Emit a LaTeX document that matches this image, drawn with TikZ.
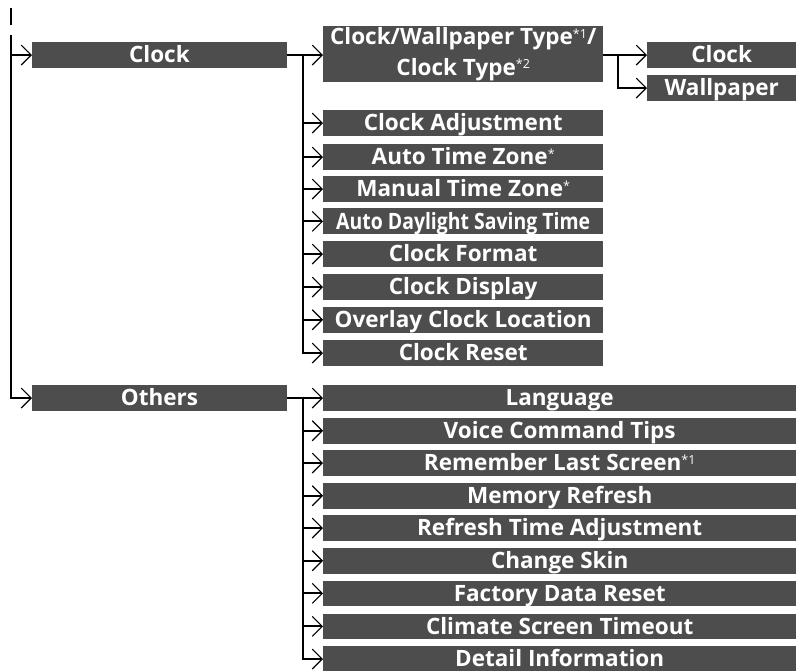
\documentclass[tikz,border=0pt]{standalone}
\usepackage{fontspec}
\setmainfont{Open Sans}
\usetikzlibrary{arrows.meta}
\definecolor{boxgray}{RGB}{77,77,77}
\newcommand{\supmark}[1]{\raisebox{6.5pt}{\fontsize{12.5}{12.5}\selectfont\mdseries #1}}
\begin{document}
\begin{tikzpicture}[x=1pt,y=-1pt,
  basebox/.style={fill=boxgray,text=white,inner sep=0pt,anchor=north west,
    font=\bfseries\fontsize{22.5}{30.5}\selectfont},
  menubox/.style={basebox,minimum height=25.7pt,text height=19.7pt,text depth=4pt},
  lone/.style={menubox,minimum width=254.5pt},
  ltwo/.style={menubox,minimum width=280pt},
  lthree/.style={menubox,minimum width=149pt},
  lwide/.style={menubox,minimum width=473pt},
  tallbox/.style={basebox,minimum width=280pt,minimum height=56pt,align=center},
  wire/.style={line width=1.8pt,black},
  arr/.style={wire,-{Straight Barb[length=10pt,width=20pt,line width=1.1pt]}}]
\useasboundingbox (0,0) rectangle (796,671);

% level 1
\node[lone] (clock) at (32,42) {Clock};
\node[lone] (others) at (32,385) {Others};

% clock submenu
\node[tallbox] (cw) at (323,26) {Clock/Wallpaper Type\supmark{*1}/\\Clock Type\supmark{*2}};
\node[ltwo] (adj) at (323,110) {Clock Adjustment};
\node[ltwo] (atz) at (323,144) {Auto Time Zone\supmark{*}};
\node[ltwo] (mtz) at (323,176) {Manual Time Zone\supmark{*}};
\node[ltwo] (ads) at (323,208.3) {\resizebox{254pt}{\height}{Auto Daylight Saving Time}};
\node[ltwo] (cf) at (323,241) {Clock Format};
\node[ltwo] (cd) at (323,274) {Clock Display};
\node[ltwo] (ocl) at (323,306.7) {Overlay Clock Location};
\node[ltwo] (cr) at (323,340) {Clock Reset};

% third level
\node[lthree] (sc) at (647,42) {Clock};
\node[lthree] (wp) at (647,75) {Wallpaper};

% others submenu
\node[lwide] (lang) at (323,385) {Language};
\node[lwide] (vct) at (323,417.7) {Voice Command Tips};
\node[lwide] (rls) at (323,450) {Remember Last Screen\supmark{*1}};
\node[lwide] (mr) at (323,482.7) {Memory Refresh};
\node[lwide] (rta) at (323,515) {Refresh Time Adjustment};
\node[lwide] (cs) at (323,547.7) {Change Skin};
\node[lwide] (fdr) at (323,580.3) {Factory Data Reset};
\node[lwide] (cst) at (323,613.3) {Climate Screen Timeout};
\node[lwide] (di) at (323,646) {Detail Information};

% junction coordinates
\coordinate (stubA) at (11,8);
\coordinate (stubB) at (11,25);
\coordinate (top) at (11,35);
\coordinate (cj) at (302.7,0);
\coordinate (sj) at (618,0);

% main trunk
\draw[wire] (stubA) -- (stubB);
\draw[arr] (top) |- (others.west);
\draw[arr] (top |- clock.west) -- (clock.west);

% clock branch
\draw[arr] (clock.east) -- (cj |- clock.east) |- (cr.west);
\draw[arr] (cj |- clock.east) -- (cw.west |- clock.east);
\foreach \n in {adj,atz,mtz,ads,cf,cd,ocl}
  \draw[arr] (cj |- \n.west) -- (\n.west);

% third level branch
\draw[arr] (cw.east |- sc.west) -- (sc.west);
\draw[arr] (sj |- sc.west) |- (wp.west);

% others branch
\draw[arr] (others.east) -- (cj |- others.east) |- (di.west);
\foreach \n in {lang,vct,rls,mr,rta,cs,fdr,cst}
  \draw[arr] (cj |- \n.west) -- (\n.west);
\end{tikzpicture}
\end{document}
